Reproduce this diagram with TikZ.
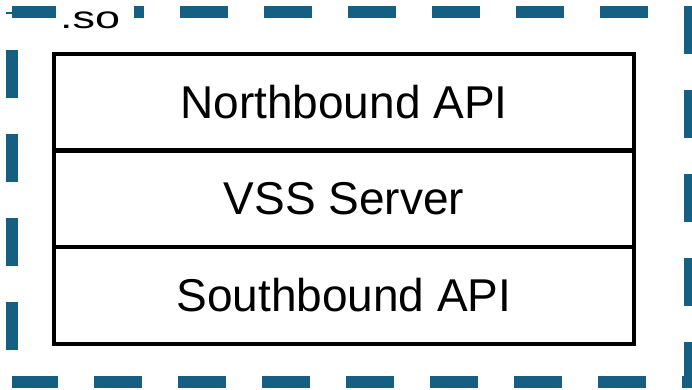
\documentclass[tikz,border=0pt]{standalone}
\usepackage{fontspec}
\setmainfont{Liberation Sans}
\definecolor{frame}{HTML}{156082}
\begin{document}
\begin{tikzpicture}[x=1pt,y=-1pt,
  layer/.style={draw=black, line width=4pt, minimum width=580pt, minimum height=96.5pt,
    inner sep=0pt, anchor=north, font=\fontsize{46}{52}\selectfont},
  border/.style={draw=frame, line width=12pt, dash pattern=on 48pt off 36pt},
  tag/.style={fill=white, anchor=base west, inner xsep=4pt, inner ysep=0pt,
    text height=26pt, text depth=6pt,
    text width=70pt, align=left, font=\fontsize{31}{34}\selectfont}]
\useasboundingbox (0,0) rectangle (692,389);
\coordinate (tl) at (12,12);
\coordinate (tr) at (690,12);
\coordinate (br) at (690,382);
\coordinate (bl) at (12,382);
\draw[border] (tl) -- (tr) -- (br) -- (bl);
\draw[border, dash phase=52pt] (bl) -- (tl);
\node[tag] (so) at (56,28) {\scalebox{1.45}[1]{.so}};
\node[layer] (nb) at (344,52) {Northbound API};
\node[layer] (vss) at (344,148) {VSS Server};
\node[layer] (sb) at (344,245) {Southbound API};
\end{tikzpicture}
\end{document}
